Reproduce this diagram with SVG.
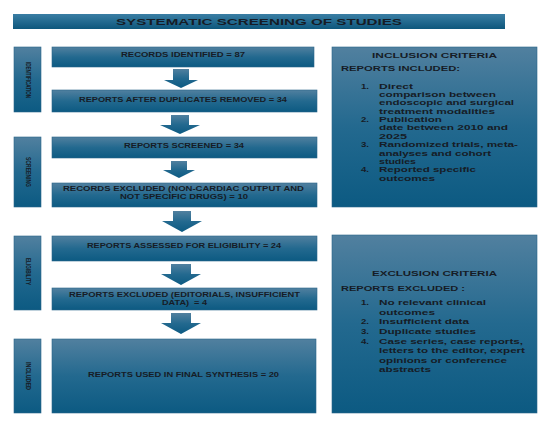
<svg xmlns="http://www.w3.org/2000/svg" width="555" height="432" viewBox="0 0 555 432">
<defs>
<linearGradient id="g" x1="0" y1="0" x2="0" y2="1">
<stop offset="0" stop-color="#51809f"/>
<stop offset="0.5" stop-color="#23698f"/>
<stop offset="1" stop-color="#0c5a82"/>
</linearGradient>
<linearGradient id="gt" x1="0" y1="0" x2="0" y2="1">
<stop offset="0" stop-color="#3a7ea4"/>
<stop offset="1" stop-color="#0e577c"/>
</linearGradient>
</defs>
<style>
.box{fill:url(#g);stroke:#2a6489;stroke-width:0.6}
.arr{fill:url(#g)}
.t{font-family:"Liberation Sans",Arial,sans-serif;font-weight:700;fill:#161c26}
.m{font-size:6.6px}
.s{font-size:6.8px}
.h{font-size:7.5px}
.l{font-size:7.6px}
</style>
<rect width="555" height="432" fill="#ffffff"/>
<g id="title">
<rect x="13" y="14" width="492" height="15" fill="url(#gt)"/>
<text class="t" x="116" y="25.2" font-size="9" textLength="286" lengthAdjust="spacingAndGlyphs">SYSTEMATIC SCREENING OF STUDIES</text>
</g>
<g id="stage-identification">
<rect class="box" x="14" y="47" width="27" height="65"/>
<text class="t s" x="28" y="82.4" text-anchor="middle" transform="rotate(90 28 80)" textLength="36" lengthAdjust="spacingAndGlyphs">IDENTIFICATION</text>
</g>
<g id="stage-screening">
<rect class="box" x="14" y="137" width="27" height="70"/>
<text class="t s" x="28" y="174.4" text-anchor="middle" transform="rotate(90 28 172)" textLength="30" lengthAdjust="spacingAndGlyphs">SCREENING</text>
</g>
<g id="stage-eligibility">
<rect class="box" x="14" y="236" width="27" height="74"/>
<text class="t s" x="28" y="273.9" text-anchor="middle" transform="rotate(90 28 271.5)" textLength="27" lengthAdjust="spacingAndGlyphs">ELIGIBILITY</text>
</g>
<g id="stage-included">
<rect class="box" x="14" y="339" width="27" height="74"/>
<text class="t s" x="28" y="378.4" text-anchor="middle" transform="rotate(90 28 376)" textLength="28" lengthAdjust="spacingAndGlyphs">INCLUDED</text>
</g>
<g id="records-identified">
<rect class="box" x="52" y="47" width="262" height="20"/>
<text class="t m" x="121" y="56.5" textLength="124" lengthAdjust="spacingAndGlyphs">RECORDS IDENTIFIED = 87</text>
</g>
<g id="after-duplicates">
<rect class="box" x="52" y="90" width="265" height="22"/>
<text class="t m" x="79" y="101.5" textLength="208" lengthAdjust="spacingAndGlyphs">REPORTS AFTER DUPLICATES REMOVED = 34</text>
</g>
<g id="screened">
<rect class="box" x="52" y="137" width="265" height="21"/>
<text class="t m" x="124" y="147.5" textLength="120" lengthAdjust="spacingAndGlyphs">REPORTS SCREENED = 34</text>
</g>
<g id="records-excluded">
<rect class="box" x="52" y="183" width="265" height="24"/>
<text class="t m" x="63" y="190.5" textLength="241" lengthAdjust="spacingAndGlyphs">RECORDS EXCLUDED (NON-CARDIAC OUTPUT AND</text>
<text class="t m" x="120" y="198.7" textLength="128" lengthAdjust="spacingAndGlyphs">NOT SPECIFIC DRUGS) = 10</text>
</g>
<g id="assessed">
<rect class="box" x="52" y="236" width="265" height="25"/>
<text class="t m" x="87" y="247.5" textLength="194" lengthAdjust="spacingAndGlyphs">REPORTS ASSESSED FOR ELIGIBILITY = 24</text>
</g>
<g id="reports-excluded">
<rect class="box" x="52" y="288" width="265" height="22"/>
<text class="t m" x="69" y="296.5" textLength="231" lengthAdjust="spacingAndGlyphs">REPORTS EXCLUDED (EDITORIALS, INSUFFICIENT</text>
<text class="t m" x="162" y="304.7" textLength="45" lengthAdjust="spacingAndGlyphs" xml:space="preserve">DATA)  = 4</text>
</g>
<g id="final-synthesis">
<rect class="box" x="52" y="339" width="264" height="74"/>
<text class="t m" x="88" y="376.5" textLength="191" lengthAdjust="spacingAndGlyphs">REPORTS USED IN FINAL SYNTHESIS = 20</text>
</g>
<g id="inclusion-criteria">
<rect class="box" x="332" y="47" width="205" height="160"/>
<text class="t h" x="372" y="58" textLength="125" lengthAdjust="spacingAndGlyphs">INCLUSION CRITERIA</text>
<text class="t h" x="341" y="71" textLength="119" lengthAdjust="spacingAndGlyphs">REPORTS INCLUDED:</text>
<text class="t l" x="361" y="88.7" textLength="8" lengthAdjust="spacingAndGlyphs">1.</text>
<text class="t l" x="379" y="88.7" textLength="34" lengthAdjust="spacingAndGlyphs">Direct</text>
<text class="t l" x="379" y="97" textLength="117" lengthAdjust="spacingAndGlyphs">comparison between</text>
<text class="t l" x="379" y="105.4" textLength="135" lengthAdjust="spacingAndGlyphs">endoscopic and surgical</text>
<text class="t l" x="379" y="113.7" textLength="116" lengthAdjust="spacingAndGlyphs">treatment modalities</text>
<text class="t l" x="361" y="122.1" textLength="8" lengthAdjust="spacingAndGlyphs">2.</text>
<text class="t l" x="379" y="122.1" textLength="63" lengthAdjust="spacingAndGlyphs">Publication</text>
<text class="t l" x="379" y="130.4" textLength="129" lengthAdjust="spacingAndGlyphs">date between 2010 and</text>
<text class="t l" x="379" y="138.8" textLength="28" lengthAdjust="spacingAndGlyphs">2025</text>
<text class="t l" x="361" y="147.1" textLength="8" lengthAdjust="spacingAndGlyphs">3.</text>
<text class="t l" x="379" y="147.1" textLength="139" lengthAdjust="spacingAndGlyphs">Randomized trials, meta-</text>
<text class="t l" x="379" y="155.5" textLength="112" lengthAdjust="spacingAndGlyphs">analyses and cohort</text>
<text class="t l" x="379" y="163.8" textLength="37" lengthAdjust="spacingAndGlyphs">studies</text>
<text class="t l" x="361" y="172.2" textLength="8" lengthAdjust="spacingAndGlyphs">4.</text>
<text class="t l" x="379" y="172.2" textLength="97" lengthAdjust="spacingAndGlyphs">Reported specific</text>
<text class="t l" x="379" y="180.5" textLength="56" lengthAdjust="spacingAndGlyphs">outcomes</text>
</g>
<g id="exclusion-criteria">
<rect class="box" x="332" y="235" width="205" height="178"/>
<text class="t h" x="372" y="276" textLength="125" lengthAdjust="spacingAndGlyphs">EXCLUSION CRITERIA</text>
<text class="t h" x="341" y="291" textLength="124" lengthAdjust="spacingAndGlyphs">REPORTS EXCLUDED :</text>
<text class="t l" x="361" y="305" textLength="8" lengthAdjust="spacingAndGlyphs">1.</text>
<text class="t l" x="379" y="305" textLength="107" lengthAdjust="spacingAndGlyphs">No relevant clinical</text>
<text class="t l" x="379" y="314.5" textLength="56" lengthAdjust="spacingAndGlyphs">outcomes</text>
<text class="t l" x="361" y="324" textLength="8" lengthAdjust="spacingAndGlyphs">2.</text>
<text class="t l" x="379" y="324" textLength="90" lengthAdjust="spacingAndGlyphs">Insufficient data</text>
<text class="t l" x="361" y="334" textLength="8" lengthAdjust="spacingAndGlyphs">3.</text>
<text class="t l" x="379" y="334" textLength="97" lengthAdjust="spacingAndGlyphs">Duplicate studies</text>
<text class="t l" x="361" y="343.5" textLength="8" lengthAdjust="spacingAndGlyphs">4.</text>
<text class="t l" x="379" y="343.5" textLength="144" lengthAdjust="spacingAndGlyphs">Case series, case reports,</text>
<text class="t l" x="379" y="353" textLength="146" lengthAdjust="spacingAndGlyphs">letters to the editor, expert</text>
<text class="t l" x="379" y="362.5" textLength="128" lengthAdjust="spacingAndGlyphs">opinions or conference</text>
<text class="t l" x="379" y="372" textLength="52" lengthAdjust="spacingAndGlyphs">abstracts</text>
</g>
<g id="connectors">
<path class="arr" d="M173 69H189V80H198L181 88L164 80H173Z"/>
<path class="arr" d="M171 115H189V125H200L180 134L160 125H171Z"/>
<path class="arr" d="M171 161H187V170H195L179 178L163 170H171Z"/>
<path class="arr" d="M173 211H191V221H202L182 232L162 221H173Z"/>
<path class="arr" d="M171 264H191V274H201L181 285L161 274H171Z"/>
<path class="arr" d="M171 313H191V323H201L181 334L161 323H171Z"/>
</g>
</svg>
